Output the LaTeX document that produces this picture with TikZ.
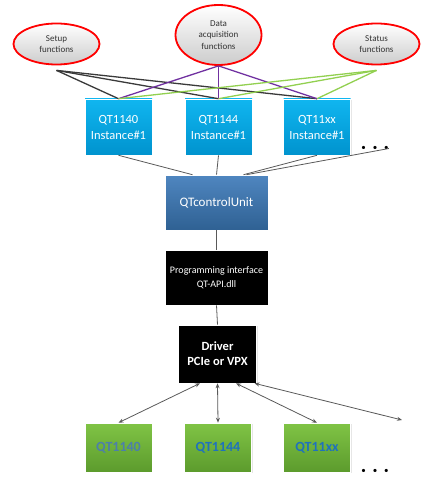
\documentclass[tikz,border=0pt]{standalone}
\usepackage{fontspec}
\setmainfont{Carlito}
\usetikzlibrary{shapes.geometric,arrows.meta,shadows}
\definecolor{funcred}{HTML}{FF0000}
\definecolor{instTop}{HTML}{10B6F0}
\definecolor{instBot}{HTML}{0093CE}
\definecolor{ctrlTop}{HTML}{4F86C0}
\definecolor{ctrlBot}{HTML}{2F6193}
\definecolor{hwTop}{HTML}{80C445}
\definecolor{hwBot}{HTML}{5C9B2D}
\definecolor{hwText}{HTML}{1F72BD}
\definecolor{hwTextB}{HTML}{4D7FAA}
\definecolor{setupLine}{HTML}{3A3A3A}
\definecolor{dataLine}{HTML}{7030A0}
\definecolor{statLine}{HTML}{92D050}
\begin{document}
\begin{tikzpicture}[
			x=1pt, y=-1pt,
			func/.style={ellipse, draw=funcred, line width=1.8pt, top color=white, bottom color=black!20, minimum width=86pt, minimum height=41pt, inner sep=0pt, align=center, text=black!80, font=\fontsize{9}{11.5}\selectfont},
			inst/.style={rectangle, top color=instTop, bottom color=instBot, draw=white, line width=0.6pt, minimum width=67pt, minimum height=56pt, align=center, text=white, font=\fontsize{12.5}{16}\selectfont, drop shadow={shadow xshift=1.2pt, shadow yshift=-1.2pt, opacity=0.2}},
			ctrlbox/.style={rectangle, top color=ctrlTop, bottom color=ctrlBot, draw=white, line width=0.6pt, minimum width=103pt, minimum height=55pt, text=white, font=\fontsize{13}{16}\selectfont, drop shadow={shadow xshift=1.2pt, shadow yshift=-1.2pt, opacity=0.2}},
			blackbox/.style={rectangle, fill=black, draw=white, line width=0.6pt, align=center, text=white, drop shadow={shadow xshift=1.2pt, shadow yshift=-1.2pt, opacity=0.2}},
			hwbox/.style={rectangle, top color=hwTop, bottom color=hwBot, draw=white, line width=0.6pt, minimum width=67pt, minimum height=49pt, text=hwText, font=\bfseries\fontsize{14}{16}\selectfont, drop shadow={shadow xshift=1.2pt, shadow yshift=-1.2pt, opacity=0.2}},
			morebox/.style={inner sep=0pt, font=\fontsize{9}{9}\selectfont},
			link/.style={black!65, line width=0.8pt},
			bus/.style={black!65, line width=0.8pt, {Stealth[length=5pt,width=4pt]}-{Stealth[length=5pt,width=4pt]}}
		]
		\useasboundingbox (0,0) rectangle (432,489);

		% Functions
		\node[func] (setup) at (56.5,44) {Setup\\functions};
		\node[func, minimum height=60pt] (daq) at (218.5,35) {Data\\acquisition\\functions};
		\node[func] (status) at (376.5,44) {Status\\functions};

		% Instances
		\node[inst] (inst1) at (118.5,127) {QT1140\\Instance\#1};
		\node[inst] (inst2) at (218.5,127) {QT1144\\Instance\#1};
		\node[inst] (inst3) at (317,127) {QT11xx\\Instance\#1};
		\node[morebox] (moreA) at (375,148.5) {\textbullet\hspace{7pt}\textbullet\hspace{7pt}\textbullet};

		% Software stack
		\node[ctrlbox] (ctrl) at (216.5,202.5) {QTcontrolUnit};
		\node[blackbox, minimum width=103pt, minimum height=55pt, font=\fontsize{10}{14}\selectfont] (api) at (216.5,277.5) {Programming interface\\QT-API.dll};
		\node[blackbox, minimum width=78pt, minimum height=58pt, font=\bfseries\fontsize{12.5}{15}\selectfont] (drv) at (217.5,354) {Driver\\PCIe or VPX};

		% Hardware
		\node[hwbox, text=hwTextB] (hw1) at (118.5,447.5) {QT1140};
		\node[hwbox] (hw2) at (218,447.5) {QT1144};
		\node[hwbox] (hw3) at (317,447.5) {QT11xx};
		\node[morebox] (moreB) at (375,471) {\textbullet\hspace{7pt}\textbullet\hspace{7pt}\textbullet};
		\coordinate (hwmore) at (402,420);

		% Function connections
		\draw[setupLine, line width=1.3pt] ([yshift=-5pt]setup.south) -- (inst1.north);
		\draw[setupLine, line width=1.3pt] ([yshift=-5pt]setup.south) -- (inst2.north);
		\draw[setupLine, line width=1.3pt] ([yshift=-5pt]setup.south) -- (inst3.north);
		\draw[dataLine, line width=1.3pt] (daq.south) -- (inst1.north);
		\draw[dataLine, line width=1.3pt] (daq.south) -- (inst2.north);
		\draw[dataLine, line width=1.3pt] (daq.south) -- (inst3.north);
		\draw[statLine, line width=1.3pt] ([yshift=-5pt]status.south) -- (inst1.north);
		\draw[statLine, line width=1.3pt] ([yshift=-5pt]status.south) -- (inst2.north);
		\draw[statLine, line width=1.3pt] ([yshift=-5pt]status.south) -- (inst3.north);

		% Stack connections
		\draw[link] (inst1.south) -- ([xshift=-24pt]ctrl.north);
		\draw[link] (inst2.south) -- (ctrl.north);
		\draw[link] (inst3.south) -- ([xshift=27pt]ctrl.north);
		\draw[link] (moreA.east) -- ([xshift=30pt]ctrl.north);
		\draw[link] (ctrl.south) -- (api.north);
		\draw[link] (api.south) -- (drv.north);

		% Bus
		\draw[bus] ([xshift=-17.5pt]drv.south) -- (hw1.north);
		\draw[bus] (drv.south) -- (hw2.north);
		\draw[bus] ([xshift=18.5pt]drv.south) -- (hw3.north);
		\draw[bus] ([xshift=37pt]drv.south) -- (hwmore);
	\end{tikzpicture}
\end{document}
